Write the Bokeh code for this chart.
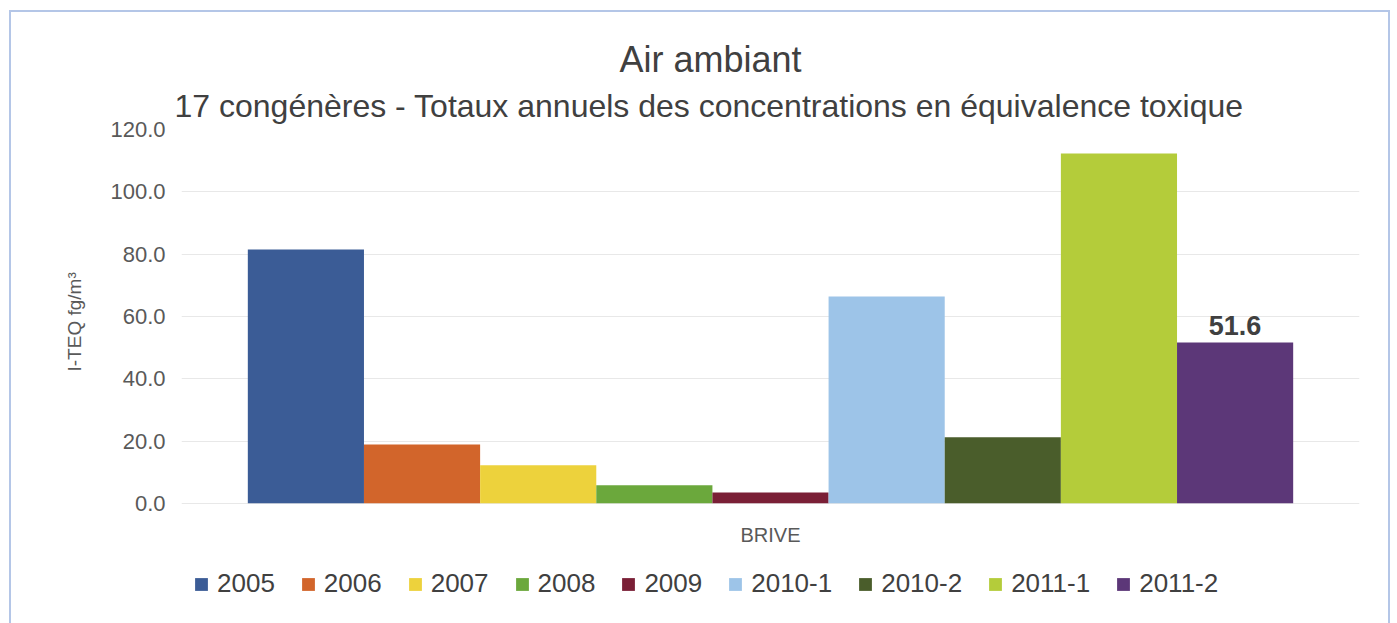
from bokeh.plotting import figure
from bokeh.models import FactorRange, Range1d, Title, Legend, LegendItem, ColumnDataSource, NumeralTickFormatter, FixedTicker, LabelSet
from bokeh.transform import dodge
from bokeh.core.properties import value
from bokeh.embed import file_html
from bokeh.resources import INLINE

category = ["BRIVE"]
series = ["2005", "2006", "2007", "2008", "2009", "2010-1", "2010-2", "2011-1", "2011-2"]
values = [81.5, 18.9, 12.2, 5.8, 3.5, 66.4, 21.2, 112.3, 51.6]
colors = ["#3B5C96", "#D2652B", "#EDD23C", "#6BA83C", "#7A1F36", "#9DC4E8", "#4A5D2B", "#B4CC3A", "#5C3778"]
y_ticks = [0, 20, 40, 60, 80, 100, 120]
label_series = "2011-2"

FONT = "Liberation Sans"

# the frame extends below 0 to leave room for the legend drawn inside it
p = figure(x_range=FactorRange(*category, range_padding=0), y_range=Range1d(-39.2, 120),
           width=1381, height=615, output_backend="svg", toolbar_location=None,
           min_border_left=170, min_border_right=33, min_border_top=117, min_border_bottom=2)

p.add_layout(Title(text="17 congénères - Totaux annuels des concentrations en équivalence toxique",
                   align="left", text_font=FONT, text_font_size="32px", text_font_style="normal",
                   text_color="#404040", standoff=12, offset=-7), "above")
p.add_layout(Title(text="Air ambiant", align="left", text_font=FONT, text_font_size="36px",
                   text_font_style="normal", text_color="#404040", standoff=0, offset=438), "above")
p.add_layout(Title(text="I-TEQ fg/m³", align="left", text_font=FONT, text_font_size="19px",
                   text_font_style="normal", text_color="#595959", standoff=45, offset=254), "left")

n = len(series)
bw = 0.0986
items = []
for i, (s, v, c) in enumerate(zip(series, values, colors)):
    src = ColumnDataSource(dict(x=category, top=[v], lab=[f"{v:.1f}"]))
    off = (i - (n - 1) / 2) * bw
    r = p.vbar(x=dodge("x", off, range=p.x_range), top="top", width=bw, source=src,
               fill_color=c, line_color=None)
    items.append(LegendItem(label=s, renderers=[r]))
    if s == label_series:
        p.add_layout(LabelSet(x=dodge("x", off, range=p.x_range), y="top", text="lab", source=src,
                              text_align="center", text_baseline="bottom", y_offset=8,
                              text_font=value(FONT), text_font_size="27px",
                              text_font_style="bold", text_color="#404040"))

# category label under the baseline
cat_src = ColumnDataSource(dict(x=category, y=[0] * len(category), lab=category))
p.add_layout(LabelSet(x="x", y="y", text="lab", source=cat_src, text_align="center",
                      text_baseline="middle", y_offset=-32, text_font=value(FONT),
                      text_font_size="20px", text_color="#595959"))

legend = Legend(items=items, orientation="horizontal", location=(12, 26),
                label_text_font=FONT, label_text_font_size="26px", label_text_color="#404040",
                glyph_width=16, glyph_height=16, spacing=25, label_standoff=8,
                border_line_color=None, background_fill_alpha=0, margin=0, padding=0)
p.add_layout(legend, "center")

p.xaxis.visible = False

p.yaxis.ticker = FixedTicker(ticks=y_ticks)
p.yaxis.formatter = NumeralTickFormatter(format="0.0")
p.yaxis.axis_line_color = None
p.yaxis.major_tick_line_color = None
p.yaxis.minor_tick_line_color = None
p.yaxis.major_label_text_font = FONT
p.yaxis.major_label_text_font_size = "22px"
p.yaxis.major_label_text_color = "#595959"
p.yaxis.major_label_standoff = 10

p.xgrid.grid_line_color = None
p.ygrid.grid_line_color = "#E8E8E8"
p.outline_line_color = None
p.styles = {"border": "2px solid #B4C6E7", "margin": "10px 0 0 9px"}

open("out.html", "w").write(file_html(p, INLINE))
